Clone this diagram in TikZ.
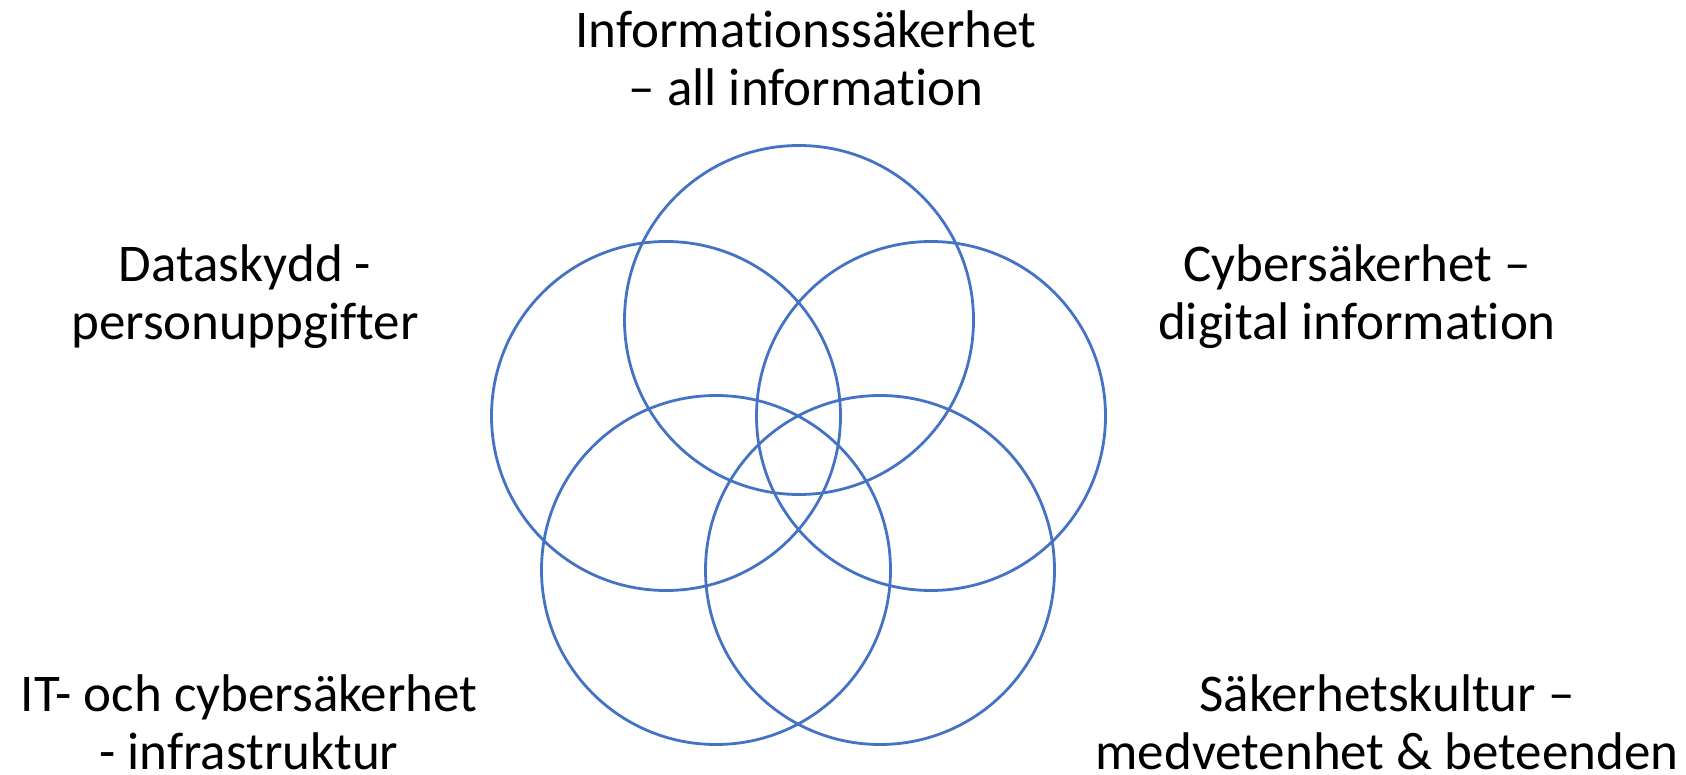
\documentclass[tikz,border=0pt]{standalone}
\usepackage{fontspec}
\setmainfont{Carlito}[Ligatures={NoCommon}]
\definecolor{ringblue}{HTML}{4472C4}
\begin{document}
\begin{tikzpicture}[x=1pt,y=-1pt,
  ring/.style={circle,draw=ringblue,line width=2.8pt,minimum size=349pt,inner sep=0pt},
  lbl/.style={align=center,font=\fontsize{53}{58}\selectfont,inner sep=0pt}]
\useasboundingbox (0,0) rectangle (1686,775);
\node[ring] (top) at (799,320) {};
\node[ring] (left) at (666,416) {};
\node[ring] (right) at (931,416) {};
\node[ring] (bl) at (716,570) {};
\node[ring] (br) at (880,570) {};
\node[lbl] (ltop) at (806,58) {Informationssäkerhet\\– all information};
\node[lbl] (lleft) at (245,297) {Dataskydd -\\personuppgifter};
\node[lbl] (lright) at (1357,297) {Cybersäkerhet –\\digital information};
\node[lbl] (lbl) at (249,722) {IT- och cybersäkerhet\\- infrastruktur};
\node[lbl] (lbr) at (1387,722) {Säkerhetskultur –\\medvetenhet \& beteenden};
\end{tikzpicture}
\end{document}
